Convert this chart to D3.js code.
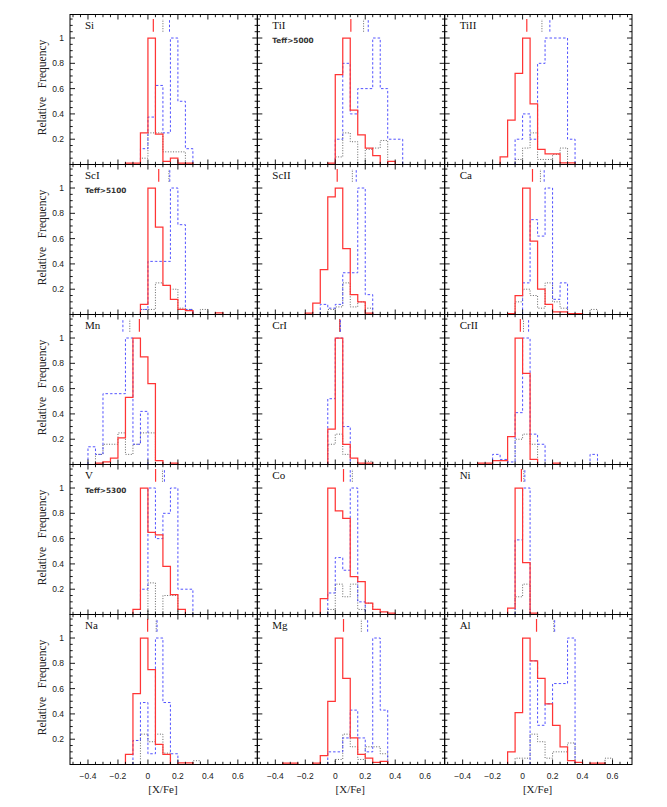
<!DOCTYPE html>
<html><head><meta charset="utf-8">
<script src="https://cdn.jsdelivr.net/npm/d3@7/dist/d3.min.js"></script>
<style>body{margin:0;background:#fff} svg{display:block}</style>
</head><body><svg id="c" width="667" height="807"></svg>
<script>
// ---------- data ----------
const elements = ["Si","TiI","TiII","ScI","ScII","Ca","Mn","CrI","CrII","V","Co","Ni","Na","Mg","Al"];
const notes = ["","Teff>5000","","Teff>5100","","","","","","Teff>5300","","","","",""];
const BIN = 0.05;

// red solid histograms: first bin edge and bin heights
const solidStart = [-0.15,-0.05,-0.15,-0.05,-0.2,-0.1,-0.35,-0.05,-0.3,-0.1,-0.1,-0.1,-0.15,-0.35,-0.1];
const solidHeights = [
  [0.01,0.01,0.25,1.0,0.24,0.025,0.05,0.01,0.01],
  [0.01,0.71,1.0,0.43,0.235,0.13,0.07,0,0.025],
  [0.06,0.35,0.72,1.0,0.48,0.12,0.085,0.085,0.012,0.012],
  [0.08,1.0,0.69,0.23,0.12,0.04,0.03,0,0,0,0.012],
  [0.01,0.09,0.355,0.93,1.0,0.52,0.157,0.1,0.01],
  [0.007,0.15,1.0,0.58,0.2,0.08,0.02,0.02,0.007,0.007],
  [0.01,0.02,0.05,0.21,0.53,1.0,0.85,0.64,0.03,0,0.01],
  [0.28,1.0,0.16,0.05,0.01,0.01],
  [0.01,0.01,0.03,0.03,0.22,1.0,0.72,0.04,0,0,0.01],
  [0.04,1.0,0.65,0.63,0.38,0.157,0.04],
  [0.125,1.0,0.82,0.76,0.3,0.26,0.09,0.04,0.02,0.01],
  [0.05,1.0,0.41,0.01],
  [0.08,0.56,1.0,0.75,0.16,0.08,0,0.012,0.012],
  [0.01,0.01,0,0,0.01,0.07,0.5,1.0,0.68,0.21,0.08,0.05,0.017,0.025],
  [0.1,0.41,1.0,0.82,0.68,0.48,0.31,0.14,0.03,0.017,0,0.01,0.01]
];
// blue dashed histograms
const dashedStart = [-0.05,0,-0.05,-0.05,-0.1,0,-0.4,-0.05,-0.2,-0.05,-0.05,-0.05,-0.1,-0.05,0.05];
const dashedHeights = [
  [0.125,0.375,0.625,0.25,1.0,0.5,0.125],
  [0.2,0.8,0.4,0.6,0.6,1.0,0.6,0.2,0.2],
  [0.2,0.4,0.2,0.8,1.0,1.0,1.0,0.2],
  [0.04,0.42,0.42,0.42,1.0,0.71,0.04],
  [0.08,0.05,0.08,0.33,0.33,1.0,0.157],
  [0.25,0.75,0.62,1.0,0.12,0.25],
  [0.14,0.08,0.56,0.56,0.56,1.0,0.16,0.42],
  [0.52,1.0,0.3],
  [0.08,0.04,0.02,0.41,1.0,0.24,0.16,0,0,0,0,0,0,0.08],
  [0.2,1.0,0.6,0.8,1.0,0.2,0.2],
  [0.17,0.45,0.35,1.0,0.1],
  [0.59,1.0],
  [0.19,0.49,0.085,1.0,0.49,0.085],
  [0.1,0.1,0.21,0.43,0.21,0.1,1.0,0.43],
  [0.82,0.31,0.48,0.64,0.64,1.0]
];
// black dotted histograms
const dottedStart = [-0.05,0,-0.05,-0.05,-0.05,-0.05,-0.35,-0.05,-0.05,0,-0.05,-0.05,-0.05,0,-0.05];
const dottedHeights = [
  [0.05,0.25,0.25,0.1,0.1,0.1],
  [0.06,0.25,0.18,0,0.12,0.13,0.19],
  [0.04,0.13,0.25,0.04,0.04,0.08,0.13],
  [0.04,0.04,0.25,0.23,0.2,0.05,0.04,0,0.04],
  [0.04,0.06,0.25,0.06,0.1,0.05],
  [0.1,0.2,0.15,0.05,0.25,0.1,0.05,0,0,0,0.04],
  [0.08,0.16,0.16,0.25,0.08,0.16,0.25,0.25],
  [0.16,0.24,0.08,0,0,0.025],
  [0.2,0.24,0.16],
  [0.25,0,0.15,0.15],
  [0.04,0.24,0.14,0.24,0.04,0.09,0.04],
  [0.14,0.24],
  [0.24,0.18,0.24,0.09,0,0,0,0.03],
  [0.04,0.24,0.14,0.04,0.14,0.14,0.085],
  [0.05,0.05,0.24,0.18,0.05,0.1,0.1,0.17,0,0,0,0,0.05]
];
// mean markers
const meanSolid  = [0.036,0.104,0.028,0.072,0.013,0.066,-0.057,0.030,-0.015,0.051,0.055,-0.008,-0.002,0.055,0.093];
const meanDotted = [0.100,0.189,0.129,0.140,0.114,0.119,-0.121,0.032,0.006,0.097,0.114,0.008,0.055,0.174,0.208];
const meanDashed = [0.144,0.220,0.182,0.146,0.140,0.144,-0.167,0.034,0.040,0.110,0.100,0.015,0.061,0.216,0.214];

const xTickLabels = [-0.4,-0.2,0,0.2,0.4,0.6];
const xMinor = d3.range(-0.5,0.701,0.05);
const yTickLabels = [0.2,0.4,0.6,0.8,1];
const yMinor = d3.range(0.05,1.151,0.05);

// ---------- layout ----------
const L=70, R=632, T=14.5, B=764.5, NC=3, NR=5;
const pw=(R-L)/NC, ph=(B-T)/NR;
const x = d3.scaleLinear().domain([-0.52,0.73]).range([0,pw]);
const y = d3.scaleLinear().domain([0,1.186]).range([ph,0]);

const RED="#ff3535", BLUE="#4040ff", GREY="#555";
const svg = d3.select("#c");
const line = d3.line().x(d=>x(d[0])).y(d=>y(d[1]));

function stepPoints(start, vals){
  const pts=[[start,0]];
  vals.forEach((v,i)=>{const a=start+i*BIN; pts.push([a,v]); pts.push([a+BIN,v]);});
  pts.push([start+vals.length*BIN,0]);
  return pts;
}
const fmt = v => (v<0?"\u2212":"") + (v===1?"1":d3.format("")(Math.abs(v)));

elements.forEach((el,i)=>{
  const c=i%NC, r=Math.floor(i/NC);
  const g = svg.append("g").attr("transform",`translate(${L+c*pw},${T+r*ph})`);
  const clipId="clip"+i;
  g.append("clipPath").attr("id",clipId).append("rect").attr("width",pw).attr("height",ph);
  const pg = g.append("g").attr("clip-path",`url(#${clipId})`);

  pg.append("path").attr("d",line(stepPoints(dottedStart[i],dottedHeights[i])))
    .attr("fill","none").attr("stroke",GREY).attr("stroke-width",0.9).attr("stroke-dasharray","1,1.6");
  pg.append("path").attr("d",line(stepPoints(dashedStart[i],dashedHeights[i])))
    .attr("fill","none").attr("stroke",BLUE).attr("stroke-width",0.9).attr("stroke-dasharray","2.5,2");
  pg.append("path").attr("d",line(stepPoints(solidStart[i],solidHeights[i])))
    .attr("fill","none").attr("stroke",RED).attr("stroke-width",1.25);

  // mean markers
  const mk=(v,col,dash,w)=>pg.append("line").attr("x1",x(v)).attr("x2",x(v))
      .attr("y1",y(1.05)).attr("y2",y(1.15)).attr("stroke",col).attr("stroke-width",w)
      .attr("stroke-dasharray",dash);
  mk(meanSolid[i],RED,null,1.2);
  mk(meanDotted[i],GREY,"1,1.5",0.9);
  mk(meanDashed[i],BLUE,"2.5,2",0.9);

  // frame
  g.append("rect").attr("width",pw).attr("height",ph).attr("fill","none")
   .attr("stroke","#000").attr("stroke-width",1);
  // ticks (inward on all sides)
  const tk = g.append("g").attr("stroke","#000").attr("stroke-width",0.9);
  xMinor.forEach(v=>{
    const major = xTickLabels.some(t=>Math.abs(t-v)<1e-6);
    const len = major?5:2.7, xx=x(v);
    tk.append("line").attr("x1",xx).attr("x2",xx).attr("y1",ph).attr("y2",ph-len);
    tk.append("line").attr("x1",xx).attr("x2",xx).attr("y1",0).attr("y2",len);
  });
  yMinor.forEach(v=>{
    const major = yTickLabels.some(t=>Math.abs(t-v)<1e-6);
    const len = major?5:2.7, yy=y(v);
    tk.append("line").attr("x1",0).attr("x2",len).attr("y1",yy).attr("y2",yy);
    tk.append("line").attr("x1",pw).attr("x2",pw-len).attr("y1",yy).attr("y2",yy);
  });

  // labels
  g.append("text").attr("x",15).attr("y",14.5).text(el)
   .attr("font-family","Liberation Serif, serif").attr("font-size",11).attr("fill","#111");
  if(notes[i]) g.append("text").attr("x",15).attr("y",28).text(notes[i])
   .attr("font-family","DejaVu Sans, sans-serif").attr("font-weight","bold")
   .attr("font-size",7.3).attr("fill","#333");

  if(c===0){
    yTickLabels.forEach(v=>{
      g.append("text").attr("x",-6).attr("y",y(v)+3).attr("text-anchor","end")
       .attr("font-family","Liberation Sans, sans-serif").attr("font-size",8.5).attr("fill","#222")
       .text(fmt(v));
    });
    g.append("text").attr("transform",`translate(-24,${ph/2-2}) rotate(-90)`)
     .attr("text-anchor","middle").style("white-space","pre")
     .attr("font-family","Liberation Serif, serif").attr("font-size",11.5).attr("fill","#222")
     .text("Relative   Frequency");
  }
  if(r===NR-1){
    xTickLabels.forEach(v=>{
      g.append("text").attr("x",x(v)).attr("y",ph+14.5).attr("text-anchor","middle")
       .attr("font-family","Liberation Sans, sans-serif").attr("font-size",8.5).attr("fill","#222")
       .text(fmt(v));
    });
    g.append("text").attr("x",x(0.1)).attr("y",ph+28.5).attr("text-anchor","middle")
     .attr("font-family","Liberation Serif, serif").attr("font-size",11).attr("fill","#222")
     .text("[X/Fe]");
  }
});
</script></body></html>
